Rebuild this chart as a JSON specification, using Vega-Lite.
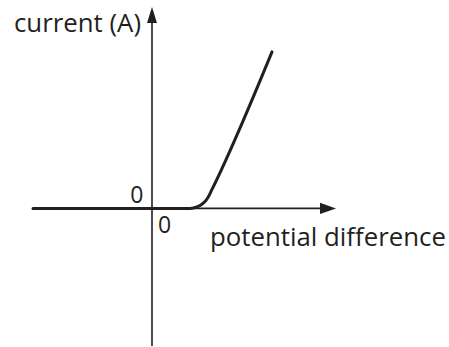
{
  "$schema": "https://vega.github.io/schema/vega-lite/v6.json",
  "width": 449,
  "height": 347,
  "padding": 0,
  "autosize": {"type": "fit", "contains": "padding"},
  "background": "white",
  "config": {"view": {"stroke": null}},
  "datasets": {
    "iv": [
      {"pd": -11.9, "current": 0},
      {"pd": 3.8, "current": 0},
      {"pd": 4.5, "current": 0.15},
      {"pd": 5.1, "current": 0.5},
      {"pd": 5.6, "current": 1.1},
      {"pd": 6.0, "current": 1.9},
      {"pd": 12.0, "current": 15.7}
    ],
    "axes": [
      {"axis": "pd", "x": -11.9, "y": 0, "x2": 16.9, "y2": 0},
      {"axis": "current", "x": 0, "y": -13.8, "x2": 0, "y2": 18.7}
    ],
    "heads": [
      {"axis": "pd", "x": 17.6, "y": 0},
      {"axis": "current", "x": 0, "y": 19.4}
    ],
    "labels": [
      {"role": "ylabel", "text": "current (A)", "x": -13.8, "y": 17.7},
      {"role": "xlabel", "text": "potential difference", "x": 5.8, "y": -3.8},
      {"role": "yzero", "text": "0", "x": -0.85, "y": 0.57},
      {"role": "xzero", "text": "0", "x": 0.6, "y": -2.43}
    ]
  },
  "encoding": {
    "x": {"field": "x", "type": "quantitative", "axis": null,
          "scale": {"domain": [-15.2, 29.7], "nice": false, "zero": false}},
    "y": {"field": "y", "type": "quantitative", "axis": null,
          "scale": {"domain": [-13.8, 20.9], "nice": false, "zero": false}}
  },
  "layer": [
    {
      "data": {"name": "axes"},
      "mark": {"type": "rule", "color": "#231f20", "strokeWidth": 1.6},
      "encoding": {
        "x2": {"field": "x2"},
        "y2": {"field": "y2"}
      }
    },
    {
      "data": {"name": "heads"},
      "mark": {"type": "point", "filled": true, "color": "#231f20", "opacity": 1, "size": 256},
      "encoding": {
        "shape": {"field": "axis", "type": "nominal", "legend": null,
                  "scale": {"domain": ["pd", "current"],
                            "range": ["M1,0L-1,0.7L-1,-0.7Z", "M0,-1L0.62,1L-0.62,1Z"]}}
      }
    },
    {
      "data": {"name": "iv"},
      "mark": {"type": "line", "color": "#231f20", "strokeWidth": 3, "strokeCap": "round", "strokeJoin": "round", "interpolate": "monotone"},
      "encoding": {
        "x": {"field": "pd", "type": "quantitative"},
        "y": {"field": "current", "type": "quantitative"}
      }
    },
    {
      "data": {"name": "labels"},
      "transform": [{"filter": "datum.role === 'ylabel' || datum.role === 'xlabel'"}],
      "mark": {"type": "text", "align": "left", "baseline": "alphabetic", "font": "Open Sans", "fontSize": 25.8, "color": "#231f20"},
      "encoding": {"text": {"field": "text"}}
    },
    {
      "data": {"name": "labels"},
      "transform": [{"filter": "datum.role === 'xzero'"}],
      "mark": {"type": "text", "align": "left", "baseline": "alphabetic", "font": "Open Sans", "fontSize": 23, "color": "#231f20"},
      "encoding": {"text": {"field": "text"}}
    },
    {
      "data": {"name": "labels"},
      "transform": [{"filter": "datum.role === 'yzero'"}],
      "mark": {"type": "text", "align": "right", "baseline": "alphabetic", "font": "Open Sans", "fontSize": 23, "color": "#231f20"},
      "encoding": {"text": {"field": "text"}}
    }
  ]
}
